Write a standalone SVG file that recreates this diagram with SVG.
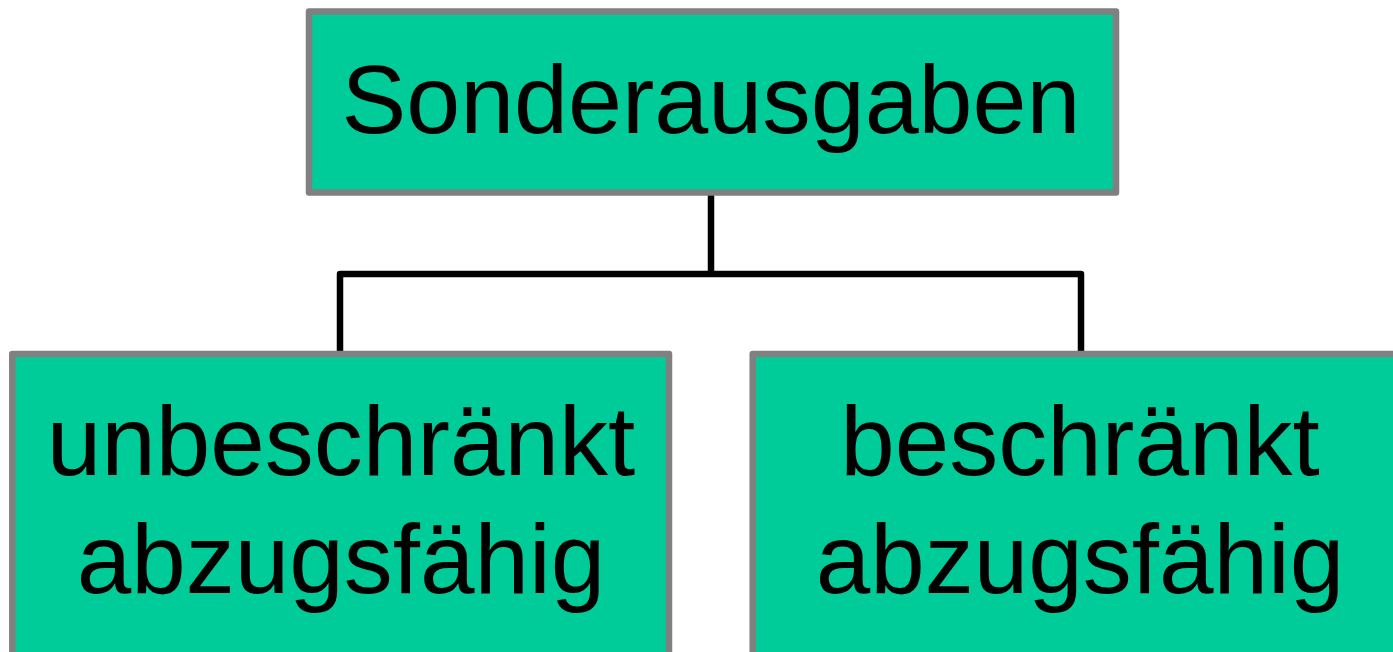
<svg xmlns="http://www.w3.org/2000/svg" width="1393" height="652" viewBox="0 0 1393 652">
  <style>
    .box { fill: #00CC99; stroke: #808080; stroke-width: 6.5; stroke-linejoin: round; }
    .label { font-family: "Liberation Sans", Arial, sans-serif; font-size: 98px; fill: #000000; text-anchor: middle; }
    .title { font-size: 97px; }
    .wire { fill: none; stroke: #000000; stroke-width: 6.5; stroke-linejoin: round; }
  </style>
  <rect width="1393" height="652" fill="#ffffff"/>

  <!-- tree connectors -->
  <g id="connectors">
    <path class="wire" d="M711,194 V274"/>
    <path class="wire" d="M340,352 V274 H1081 V352"/>
  </g>

  <g id="node-root">
    <rect class="box" x="309" y="11.5" width="807" height="181"/>
    <text class="label title" x="711" y="133">Sonderausgaben</text>
  </g>

  <g id="node-unbeschraenkt">
    <rect class="box" x="12.3" y="354" width="656.7" height="320"/>
    <text class="label" x="341" y="475">unbeschränkt</text>
    <text class="label" x="341" y="593">abzugsfähig</text>
  </g>

  <g id="node-beschraenkt">
    <rect class="box" x="752.7" y="354" width="656" height="320"/>
    <text class="label" x="1080" y="475">beschränkt</text>
    <text class="label" x="1080" y="593">abzugsfähig</text>
  </g>
</svg>
